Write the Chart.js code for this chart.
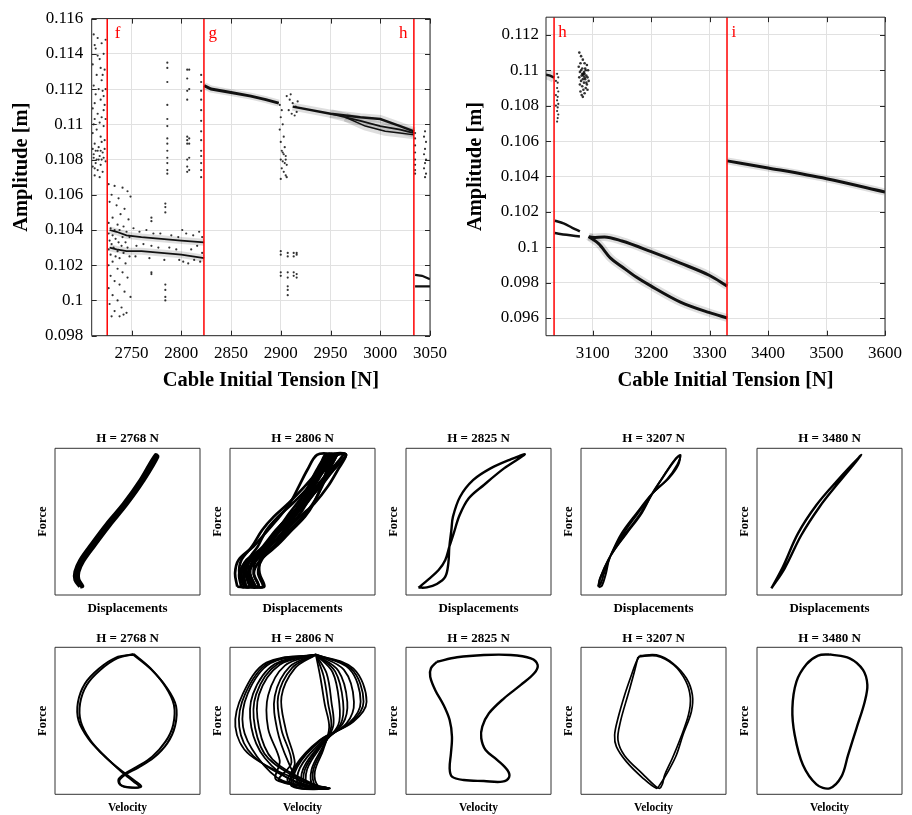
<!DOCTYPE html>
<html>
<head>
<meta charset="utf-8">
<title>Cable bifurcation diagrams and phase portraits</title>
<script src="https://cdn.jsdelivr.net/npm/chart.js@4.4.1/dist/chart.umd.min.js"></script>
<style>
  html, body { margin: 0; padding: 0; background: #fff; overflow: hidden; }
  #page { position: relative; width: 912px; height: 815px; }
  canvas { position: absolute; }
</style>
</head>
<body>
<div id="page">
  <canvas id="bifLow"  width="456" height="400" style="left:0;top:0"></canvas>
  <canvas id="bifHigh" width="456" height="400" style="left:456px;top:0"></canvas>

  <canvas id="d2768" width="173" height="200" style="left:30px;top:420px"></canvas>
  <canvas id="d2806" width="173" height="200" style="left:205px;top:420px"></canvas>
  <canvas id="d2825" width="173" height="200" style="left:381px;top:420px"></canvas>
  <canvas id="d3207" width="173" height="200" style="left:556px;top:420px"></canvas>
  <canvas id="d3480" width="173" height="200" style="left:732px;top:420px"></canvas>

  <canvas id="v2768" width="173" height="195" style="left:30px;top:620px"></canvas>
  <canvas id="v2806" width="173" height="195" style="left:205px;top:620px"></canvas>
  <canvas id="v2825" width="173" height="195" style="left:381px;top:620px"></canvas>
  <canvas id="v3207" width="173" height="195" style="left:556px;top:620px"></canvas>
  <canvas id="v3480" width="173" height="195" style="left:732px;top:620px"></canvas>
</div>
<script>
// ================= Bifurcation diagram: 2710 – 3050 N =================
const tensionTicksLow = [2750, 2800, 2850, 2900, 2950, 3000, 3050];
const amplitudeTicksLow = [0.098, 0.100, 0.102, 0.104, 0.106, 0.108, 0.110, 0.112, 0.114, 0.116];
const transitionsLow = [['f', 2725.6], ['g', 2822.8], ['h', 3033.8]];

// scattered (non-periodic) amplitudes before f
const scatterBeforeF = [
  [2712,0.1151],[2716,0.1149],[2720,0.1146],[2714,0.1143],[2722,0.1140],[2718,0.1137],[2711,0.1134],[2723,0.1131],
  [2715,0.1128],[2720,0.1125],[2712,0.1122],[2717,0.1120],[2721,0.1119],[2714,0.1117],[2719,0.1114],[2723,0.1111],
  [2711,0.1109],[2716,0.1106],[2720,0.1104],[2713,0.1103],[2718,0.1101],[2722,0.1099],[2715,0.1097],[2711,0.1095],
  [2719,0.1093],[2723,0.1091],[2713,0.1089],[2717,0.1087],[2711,0.1086],[2714,0.1085],[2716,0.1085],[2719,0.1085],
  [2721,0.1084],[2723,0.1086],[2712,0.1083],[2718,0.1082],[2712,0.1081],[2715,0.1080],[2717,0.1080],[2720,0.1080],
  [2722,0.1081],[2714,0.1078],[2719,0.1077],[2711,0.1076],[2716,0.1074],[2721,0.1073],[2713,0.1071],[2718,0.1070],
  [2724,0.1120],[2724,0.1103],[2713,0.1112],[2721,0.1128],[2716,0.1139],[2724,0.1148],
  [2713,0.1145],[2719,0.1132],[2722,0.1116],[2712,0.1100],[2720,0.1090],[2724,0.1079],[2713,0.1075],[2722,0.1108]
];
// scattered amplitudes between f and g
const scatterFG = [
  [2727,0.1066],[2733,0.1065],[2741,0.1064],[2746,0.1062],[2730,0.1060],[2737,0.1058],[2749,0.1059],[2728,0.1056],
  [2735,0.1054],[2743,0.1052],[2739,0.1049],[2731,0.1047],[2747,0.1046],[2727,0.1044],[2736,0.1043],[2742,0.1042],
  [2729,0.1041],[2733,0.1040],[2738,0.1040],[2745,0.1039],[2727,0.1038],[2731,0.1037],[2741,0.1036],[2748,0.1036],
  [2734,0.1035],[2728,0.1034],[2737,0.1033],[2744,0.1033],[2730,0.1032],[2740,0.1031],[2732,0.1030],[2746,0.1030],
  [2727,0.1029],[2736,0.1028],[2742,0.1027],[2729,0.1026],[2734,0.1025],[2748,0.1025],[2738,0.1024],[2731,0.1022],
  [2744,0.1021],[2727,0.1020],[2736,0.1018],[2741,0.1016],[2729,0.1014],[2746,0.1013],[2733,0.1011],[2738,0.1009],
  [2727,0.1007],[2743,0.1005],[2731,0.1003],[2749,0.1002],[2736,0.1000],[2728,0.0998],[2740,0.0996],[2733,0.0994],
  [2745,0.0993],[2730,0.0991],[2738,0.0991],[2742,0.0992],
  [2752,0.1041],[2758,0.1039],[2765,0.1040],[2772,0.1038],[2779,0.1038],[2790,0.1037],[2797,0.1036],[2805,0.1038],
  [2812,0.1037],[2818,0.1039],[2755,0.1031],[2762,0.1032],[2770,0.1031],[2777,0.1030],[2788,0.1030],[2795,0.1029],
  [2802,0.1022],[2807,0.1021],[2813,0.1023],[2819,0.1022],[2754,0.1025],[2768,0.1024],[2783,0.1023],[2798,0.1023],
  [2810,0.1029],[2816,0.1031],[2801,0.1040],[2821,0.1036],[2821,0.1027],
  [2770,0.1047],[2770,0.1045],[2770,0.1016],[2770,0.1015],
  [2784,0.1055],[2784,0.1053],[2784,0.1050],[2784,0.1009],[2784,0.1006],[2784,0.1002],[2784,0.1000],
  [2786,0.1135],[2786,0.1132],[2786,0.1124],[2786,0.1111],[2786,0.1103],[2786,0.1099],[2786,0.1092],[2786,0.1089],
  [2786,0.1085],[2786,0.1081],[2786,0.1078],[2786,0.1074],[2786,0.1072],
  [2806,0.1131],[2806,0.1126],[2806,0.1119],[2806,0.1114],[2806,0.1093],[2806,0.1091],[2806,0.1089],[2806,0.1080],
  [2806,0.1076],[2806,0.1073],[2808,0.1131],[2808,0.1120],[2808,0.1092],[2808,0.1089],[2808,0.1081],[2808,0.1074],
  [2820,0.1128],[2820,0.1124],[2820,0.1119],[2820,0.1114],[2820,0.1108],[2820,0.1102],[2820,0.1096],[2820,0.1091],
  [2820,0.1085],[2820,0.1082],[2820,0.1078],[2820,0.1074],[2820,0.1070]
];
// scattered amplitudes between g and h
const scatterGH = [
  [2899,0.1111],[2901,0.1108],[2900,0.1104],[2902,0.1100],[2899,0.1097],[2903,0.1093],[2900,0.1090],[2904,0.1087],
  [2901,0.1085],[2903,0.1083],[2905,0.1082],[2900,0.1080],[2902,0.1079],[2904,0.1078],[2906,0.1077],[2901,0.1075],
  [2903,0.1073],[2905,0.1071],[2900,0.1069],[2906,0.1070],[2902,0.1084],[2905,0.1080],
  [2906,0.1116],[2909,0.1114],[2912,0.1112],[2915,0.1110],[2908,0.1108],[2911,0.1106],[2914,0.1105],[2917,0.1113],
  [2910,0.1117],[2916,0.1107],
  [2900,0.1028],[2900,0.1026],[2900,0.1016],[2900,0.1014],
  [2907,0.1027],[2907,0.1025],[2907,0.1016],[2907,0.1013],[2907,0.1008],[2907,0.1006],[2907,0.1003],
  [2913,0.1027],[2913,0.1025],[2913,0.1016],[2913,0.1014],[2916,0.1027],[2916,0.1026],[2916,0.1015],[2916,0.1013]
];
// scattered amplitudes after h
const scatterAfterH = [
  [3035,0.1095],[3035,0.1092],[3035,0.1088],[3035,0.1084],[3035,0.1080],[3035,0.1077],[3035,0.1074],[3035,0.1072],
  [3045,0.1096],[3044,0.1093],[3046,0.1090],[3045,0.1086],[3044,0.1083],[3046,0.1080],[3045,0.1078],[3044,0.1075],
  [3046,0.1072],[3045,0.1070]
];
// periodic branches
const branchFGUpper = [[2728,0.1040],[2735,0.1039],[2745,0.1037],[2760,0.1036],[2780,0.1035],[2800,0.1034],[2823,0.1033]];
const branchFGLower = [[2728,0.1030],[2735,0.1029],[2745,0.1028],[2760,0.1028],[2780,0.1027],[2800,0.1026],[2823,0.1024]];
const branchG1 = [[2823,0.1122],[2830,0.1120],[2850,0.1118],[2870,0.1116],[2885,0.1114],[2898,0.1112]];
const branchG2a = [[2912,0.1110],[2950,0.1106],[2980,0.1104],[3000,0.1103],[3020,0.1099],[3034,0.1096]];
const branchG2b = [[2950,0.1106],[2980,0.1102],[3000,0.1099],[3020,0.1097],[3034,0.1095]];
const branchG2c = [[2965,0.1104],[2985,0.1099],[3005,0.1096],[3020,0.1095],[3034,0.1094]];
const branchHUpper = [[3035,0.10145],[3042,0.1014],[3050,0.1012]];
const branchHLower = [[3035,0.1008],[3050,0.1008]];

// ================= Bifurcation diagram: 3020 – 3600 N =================
const tensionTicksHigh = [3100, 3200, 3300, 3400, 3500, 3600];
const amplitudeTicksHigh = [0.096, 0.098, 0.100, 0.102, 0.104, 0.106, 0.108, 0.110, 0.112];
const transitionsHigh = [['h', 3033.8], ['i', 3329.7]];

const scatterNearH = [
  [3039,0.1098],[3041,0.1096],[3040,0.1093],[3039,0.1090],[3041,0.1088],[3040,0.1085],[3039,0.1083],[3041,0.1081],
  [3040,0.1079],[3039,0.1077],[3041,0.1075],[3040,0.1073],[3039,0.1071],[3037,0.1094],[3037,0.1086],[3037,0.1080]
];
const scatterNear3085 = [
  [3077,0.1110],[3080,0.1108],[3083,0.1106],[3079,0.1104],[3086,0.1104],[3090,0.1103],[3076,0.1102],[3082,0.1101],
  [3088,0.1100],[3092,0.1100],[3078,0.1099],[3084,0.1098],[3086,0.1098],[3089,0.1097],[3081,0.1097],[3091,0.1096],
  [3077,0.1096],[3083,0.1095],[3087,0.1095],[3093,0.1094],[3080,0.1094],[3085,0.1093],[3090,0.1092],[3078,0.1092],
  [3082,0.1091],[3088,0.1090],[3084,0.1089],[3079,0.1088],[3086,0.1087],[3081,0.1086],[3083,0.1085],[3091,0.1089],
  [3089,0.1093],[3087,0.1101],[3085,0.1099],[3080,0.1100],[3084,0.1097],[3082,0.1098],[3086,0.1096]
];
const branchBeforeH = [[3020,0.10975],[3027,0.1097],[3034,0.10958]];
const branchPairUpper = [[3035,0.1015],[3050,0.10135],[3065,0.1011],[3078,0.1009]];
const branchPairLower = [[3035,0.1008],[3055,0.1007],[3078,0.1006]];
const branchLoopUpper = [[3093,0.1006],[3100,0.10055],[3120,0.10058],[3150,0.10035],[3200,0.09975],[3250,0.0991],[3300,0.0984],[3330,0.0978]];
const branchLoopLower = [[3093,0.1006],[3110,0.1002],[3130,0.0994],[3150,0.0989],[3175,0.0983],[3200,0.0978],[3250,0.0969],[3300,0.0963],[3330,0.0960]];
const branchAfterI = [[3330,0.10488],[3400,0.10448],[3500,0.10387],[3600,0.10312]];

// ================= Phase portraits (normalised 0–100 units) =================
const disp2768 = [
  [[17.3,5.7],[13.9,10.2],[13.9,15.9],[17.3,23.8],[25.4,35.1],[35.8,48.7],[47.3,62.3],[58.9,78.4],[69.3,95.4],
   [70.8,94.2],[60.8,77.5],[49.3,61.5],[37.8,47.5],[27.5,34.0],[19.5,23.0],[16.3,15.8],[16.3,10.5],[19.0,6.0],[17.3,5.7]]
];
const disp2806 = [
  [[5.0,5.7],[3.5,14.8],[5.9,23.9],[16.1,33.0],[26.2,44.3],[34.2,53.4],[41.3,62.5],[47.4,73.9],[53.3,85.2],[60.0,95.5],
   [68.0,95.5],[61.3,85.2],[55.4,73.9],[49.3,62.5],[42.2,53.4],[34.2,44.3],[24.1,33.0],[13.9,23.9],[9.4,14.8],[10.7,5.7],[5.0,5.7]],
  [[7.7,5.7],[6.4,14.8],[11.9,23.9],[24.1,33.0],[35.2,44.3],[44.2,53.4],[51.3,62.5],[57.4,73.9],[62.3,85.2],[67.0,95.5],
   [73.0,95.5],[68.3,85.2],[63.4,73.9],[57.3,62.5],[50.2,53.4],[41.2,44.3],[30.1,33.0],[17.9,23.9],[12.4,14.8],[13.7,5.7],[7.7,5.7]],
  [[9.7,5.7],[6.4,14.8],[7.9,23.9],[15.1,33.0],[22.2,44.3],[30.2,53.4],[40.3,62.5],[51.4,73.9],[61.3,85.2],[70.0,95.5],
   [80.0,95.5],[71.3,85.2],[61.4,73.9],[50.3,62.5],[40.2,53.4],[32.2,44.3],[25.1,33.0],[17.9,23.9],[16.4,14.8],[19.7,5.7],[9.7,5.7]],
  [[16.7,5.7],[13.4,14.8],[15.9,23.9],[24.1,33.0],[33.2,44.3],[42.2,53.4],[52.3,62.5],[61.4,73.9],[68.3,85.2],[74.0,95.5],
   [80.0,95.5],[74.3,85.2],[67.4,73.9],[58.3,62.5],[48.2,53.4],[39.2,44.3],[30.1,33.0],[21.9,23.9],[19.4,14.8],[22.7,5.7],[16.7,5.7]],
  [[10.2,5.7],[7.9,14.8],[13.4,23.9],[26.6,33.0],[37.7,44.3],[46.7,53.4],[52.8,62.5],[57.9,73.9],[61.8,85.2],[65.5,95.5],
   [70.5,95.5],[66.8,85.2],[62.9,73.9],[57.8,62.5],[51.7,53.4],[42.7,44.3],[31.6,33.0],[18.4,23.9],[12.9,14.8],[15.2,5.7],[10.2,5.7]],
  [[17.7,5.7],[13.4,14.8],[12.9,23.9],[19.1,33.0],[25.2,44.3],[33.2,53.4],[43.3,62.5],[54.4,73.9],[63.3,85.2],[72.0,95.5],
   [80.0,95.5],[71.3,85.2],[62.4,73.9],[51.3,62.5],[41.2,53.4],[33.2,44.3],[27.1,33.0],[20.9,23.9],[20.4,14.8],[23.7,5.7],[17.7,5.7]],
  [[14.2,5.7],[10.9,14.8],[13.4,23.9],[22.6,33.0],[31.7,44.3],[40.7,53.4],[49.8,62.5],[57.9,73.9],[64.8,85.2],[70.5,95.5],
   [73.5,95.5],[67.8,85.2],[60.9,73.9],[52.8,62.5],[43.7,53.4],[34.7,44.3],[25.6,33.0],[16.4,23.9],[13.9,14.8],[17.2,5.7],[14.2,5.7]],
  [[10.2,5.7],[7.9,14.8],[11.4,23.9],[24.6,33.0],[34.7,44.3],[41.7,53.4],[47.8,62.5],[53.9,73.9],[59.8,85.2],[66.5,95.5],
   [69.5,95.5],[62.8,85.2],[56.9,73.9],[50.8,62.5],[44.7,53.4],[37.7,44.3],[27.6,33.0],[14.4,23.9],[10.9,14.8],[13.2,5.7],[10.2,5.7]],
  [[15.7,5.7],[12.4,14.8],[16.9,23.9],[27.1,33.0],[33.2,44.3],[39.2,53.4],[46.3,62.5],[55.4,73.9],[65.3,85.2],[74.0,95.5],
   [78.0,95.5],[69.3,85.2],[59.4,73.9],[50.3,62.5],[43.2,53.4],[37.2,44.3],[31.1,33.0],[20.9,23.9],[16.4,14.8],[19.7,5.7],[15.7,5.7]]
];
const disp2825 = [
  [[8.6,5.0],[15.5,10.7],[22.5,17.0],[27.1,23.9],[29.9,32.9],[32.9,42.0],[37.0,54.5],[43.3,65.9],[53.7,75.0],[67.6,86.3],
   [81.9,95.9],[72.2,92.5],[58.3,86.3],[46.4,78.4],[37.3,67.0],[32.4,53.4],[31.3,44.3],[29.9,32.9],[29.2,21.6],[27.1,12.5],
   [21.3,7.5],[14.4,5.2],[8.6,5.0]]
];
const disp3207 = [
  [[11.7,5.7],[13.5,12.0],[20.5,27.0],[31.5,42.0],[42.0,56.0],[49.0,69.0],[57.0,81.0],[64.0,91.0],[68.6,95.4],
   [66.5,89.0],[59.5,79.0],[49.0,69.0],[38.5,56.0],[28.0,42.0],[20.5,27.0],[16.0,15.0],[13.5,7.5],[11.7,5.7]],
  [[12.3,5.2],[13.0,11.0],[20.0,26.0],[30.5,41.5],[41.0,55.5],[49.5,69.5],[57.5,82.0],[64.5,92.0],[68.2,95.0],
   [67.0,88.5],[60.5,79.5],[49.5,69.5],[39.0,55.5],[28.5,41.0],[20.0,26.0],[17.0,14.0],[14.5,6.5],[12.3,5.2]]
];
const disp3480 = [
  [[9.9,4.5],[17.9,19.3],[28.3,42.0],[41.0,61.3],[54.8,77.3],[72.0,95.4],[55.9,76.1],[43.2,60.2],[30.6,40.9],[19.1,18.2],[9.9,4.5]]
];
const vel2768 = [
  [[54.3,95.4],[65.8,85.7],[76.2,73.2],[82.0,60.8],[81.5,47.2],[76.2,35.8],[67.0,25.6],[56.6,18.8],[48.5,14.3],[43.9,10.4],
   [44.6,6.8],[49.7,5.0],[58.2,5.0],[54.3,8.6],[48.5,13.1],[42.8,18.1],[33.5,26.7],[24.3,36.9],[17.8,49.4],[17.3,61.9],
   [21.9,74.4],[31.2,84.6],[42.8,92.5],[54.3,95.4]],
  [[54.0,95.0],[66.5,84.8],[77.5,72.0],[83.5,60.0],[82.8,46.5],[77.5,34.8],[68.0,24.8],[57.2,18.0],[48.8,13.6],[44.5,9.6],
   [45.5,6.2],[51.0,4.6],[59.5,5.3],[55.0,9.2],[48.8,13.9],[42.0,19.0],[32.5,27.5],[23.0,37.8],[16.3,50.0],[15.8,62.5],
   [20.6,75.2],[30.2,85.4],[42.0,93.0],[54.0,95.0]]
];
const vel2806 = [
  [[59.2,95.0],[62.4,79.1],[65.4,61.0],[68.4,45.6],[64.3,30.2],[58.5,15.4],[60.8,5.7],[68.9,4.1],[57.4,7.0],[29.3,23.8],[20.0,45.1],[20.0,67.8],[34.3,88.2],[59.2,95.0]],
  [[59.2,95.0],[66.6,82.3],[70.0,62.4],[71.2,46.5],[63.8,32.0],[56.2,16.6],[57.4,5.2],[68.4,4.1],[53.2,7.5],[13.6,26.8],[3.7,46.0],[9.0,68.7],[25.1,89.6],[59.2,95.0]],
  [[59.2,95.0],[70.7,83.2],[75.3,62.6],[74.7,47.2],[63.4,33.3],[53.2,17.0],[53.9,5.2],[68.0,4.1],[48.8,7.9],[40.1,22.2],[32.5,44.2],[30.9,66.9],[41.2,86.8],[59.2,95.0]],
  [[59.2,95.0],[74.7,84.1],[80.9,62.8],[77.6,47.8],[62.9,34.5],[50.5,17.5],[50.5,5.4],[67.7,4.1],[44.7,8.4],[24.0,24.7],[14.7,45.6],[15.9,68.3],[30.9,88.7],[59.2,95.0]],
  [[59.2,95.0],[78.6,84.6],[85.5,62.8],[80.4,48.3],[62.7,35.4],[48.2,17.9],[47.7,5.4],[67.3,4.1],[40.1,8.8],[44.7,21.1],[38.5,43.8],[35.5,66.4],[44.7,85.7],[59.2,95.0]],
  [[59.2,95.0],[82.3,85.3],[90.1,63.0],[82.7,49.0],[62.2,36.3],[46.3,18.4],[44.9,5.7],[66.8,4.1],[36.2,9.3],[18.7,25.6],[9.0,45.8],[12.2,68.5],[27.9,89.1],[59.2,95.0]],
  [[59.2,95.0],[85.0,85.7],[94.2,63.0],[85.0,49.4],[62.0,37.0],[44.7,18.8],[42.4,5.7],[66.6,4.1],[32.0,9.8],[34.3,22.9],[26.3,44.7],[26.3,67.3],[37.8,87.5],[59.2,95.0]],
  [[59.2,95.0],[72.5,83.6],[78.0,62.7],[76.2,47.5],[63.1,33.9],[51.8,17.2],[52.2,5.3],[67.8,4.1],[46.8,8.1],[16.0,26.2],[6.4,45.9],[10.6,68.6],[26.5,89.3],[59.2,95.0]],
  [[59.2,95.0],[83.6,85.5],[92.1,63.0],[83.8,49.2],[62.1,36.6],[45.5,18.6],[43.6,5.7],[66.7,4.1],[34.1,9.5],[42.4,21.6],[35.5,44.0],[33.2,66.6],[43.0,86.2],[59.2,95.0]],
  [[59.2,95.0],[64.5,80.7],[67.7,61.7],[69.8,46.0],[64.0,31.1],[57.3,16.0],[59.1,5.4],[68.6,4.1],[55.3,7.2],[26.6,24.2],[17.3,45.3],[18.0,68.0],[32.6,88.5],[59.2,95.0]]
];
const vel2825 = [
  [[21.3,90.2],[35.2,93.2],[53.7,94.8],[72.2,94.8],[86.1,92.5],[90.8,88.0],[88.4,82.3],[79.2,74.4],[67.6,65.3],[57.2,55.1],
   [52.6,46.0],[51.9,38.1],[54.9,30.1],[63.0,23.3],[69.9,16.5],[71.1,11.6],[66.4,8.6],[53.7,9.0],[39.8,9.7],[31.7,12.0],
   [30.1,17.7],[31.0,27.9],[31.7,39.2],[30.1,50.5],[25.9,60.7],[20.1,71.0],[16.7,80.0],[17.2,85.7],[21.3,90.2]]
];
const vel3207 = [
  [[40.5,94.3],[52.0,94.8],[63.4,89.1],[72.7,78.9],[76.8,67.6],[76.1,56.2],[70.3,40.3],[65.8,26.7],[60.0,15.4],[54.3,6.3],
   [52.0,4.1],[42.8,10.9],[31.3,22.2],[24.4,32.4],[23.2,40.3],[25.5,51.7],[30.1,67.6],[34.8,81.2],[38.2,90.2],[40.5,94.3]],
  [[39.3,93.4],[52.0,94.1],[63.9,88.0],[72.2,77.1],[75.4,65.7],[74.1,53.9],[68.6,38.1],[63.0,24.5],[57.7,13.1],[56.1,6.8],
   [54.3,4.1],[51.5,5.4],[42.8,13.6],[30.1,26.3],[25.5,36.9],[27.2,49.4],[32.7,68.7],[36.8,83.4],[39.3,93.4]]
];
const vel3480 = [
  [[50.1,95.2],[63.9,92.5],[73.1,84.6],[76.1,74.4],[74.3,63.0],[68.6,44.9],[62.8,26.7],[58.2,12.0],[50.1,4.1],[41.0,6.8],
   [31.7,19.9],[26.0,40.3],[24.4,58.5],[27.2,76.6],[34.1,88.4],[42.1,94.3],[50.1,95.2]]
];

// ================= Drawing helpers =================
const SERIF = "'Liberation Serif', 'Times New Roman', serif";
Chart.defaults.font.family = SERIF;
Chart.defaults.color = '#000';
Chart.defaults.animation = false;

const xy = pts => pts.map(([x, y]) => ({ x, y }));

// frame around the plot area, optionally with inward tick marks on all four sides
const frame = {
  id: 'frame',
  afterDatasetsDraw(chart, args, o) {
    const { ctx, chartArea: a } = chart;
    ctx.save();
    ctx.strokeStyle = o.color || '#262626';
    ctx.lineWidth = 1;
    ctx.beginPath();
    if (o.tickLen) {
      const L = o.tickLen, sx = chart.scales.x, sy = chart.scales.y;
      sx.ticks.forEach(t => {
        const p = Math.round(sx.getPixelForValue(t.value)) + 0.5;
        ctx.moveTo(p, a.bottom); ctx.lineTo(p, a.bottom - L);
        ctx.moveTo(p, a.top); ctx.lineTo(p, a.top + L);
      });
      sy.ticks.forEach(t => {
        const p = Math.round(sy.getPixelForValue(t.value)) + 0.5;
        ctx.moveTo(a.left, p); ctx.lineTo(a.left + L, p);
        ctx.moveTo(a.right, p); ctx.lineTo(a.right - L, p);
      });
    }
    ctx.rect(a.left, a.top, a.right - a.left, a.bottom - a.top);
    ctx.stroke();
    ctx.restore();
  }
};

// axis captions and red transition letters of the bifurcation diagrams
const captions = {
  id: 'captions',
  afterDraw(chart, args, o) {
    const { ctx, chartArea: a } = chart;
    ctx.save();
    ctx.fillStyle = '#000';
    ctx.font = `bold ${o.size}px ${SERIF}`;
    ctx.textAlign = 'center';
    ctx.textBaseline = 'middle';
    ctx.fillText(o.xText, (a.left + a.right) / 2 + o.xShift, o.xY);
    ctx.save();
    ctx.translate(o.yX, (a.top + a.bottom) / 2 + o.yShift);
    ctx.rotate(-Math.PI / 2);
    ctx.fillText(o.yText, 0, 0);
    ctx.restore();
    ctx.fillStyle = '#ff0000';
    ctx.font = `17px ${SERIF}`;
    ctx.textBaseline = 'alphabetic';
    o.marks.forEach(([label, value], i) => {
      const px = chart.scales.x.getPixelForValue(value);
      const dx = o.markDx[i];
      ctx.textAlign = dx < 0 ? 'right' : 'left';
      ctx.fillText(label, px + dx, a.top + 19.7);
    });
    ctx.restore();
  }
};

function lineSet(pts, color, width, order, smooth) {
  return { data: xy(pts), showLine: true, borderColor: color, borderWidth: width, pointRadius: 0,
           order, cubicInterpolationMode: smooth ? 'monotone' : 'default', fill: false };
}
function dotSet(pts, color, r) {
  return { data: xy(pts), showLine: false, pointRadius: r, pointBackgroundColor: color, pointBorderWidth: 0, order: 2 };
}
function markSet(value, yMin, yMax) {
  return { data: [{ x: value, y: yMin }, { x: value, y: yMax }], showLine: true, borderColor: '#ff0000',
           borderWidth: 1.5, pointRadius: 0, order: 0 };
}
const fmtAmp = v => String(parseFloat(Number(v).toFixed(3)));

function bifurcation(id, cfg) {
  new Chart(document.getElementById(id), {
    type: 'scatter',
    data: { datasets: cfg.datasets },
    options: {
      responsive: false, devicePixelRatio: 1, events: [],
      layout: { padding: { top: 14.3, right: cfg.padRight, left: 0, bottom: 0 } },
      plugins: {
        legend: { display: false }, tooltip: { enabled: false },
        frame: { tickLen: 5, color: '#262626' },
        captions: { size: 20.5, xText: 'Cable Initial Tension [N]', xShift: 10, xY: 381,
                    yText: 'Amplitude [m]', yX: cfg.yTitleX, yShift: -10,
                    marks: cfg.marks, markDx: cfg.markDx }
      },
      scales: {
        x: {
          type: 'linear', min: cfg.xMin, max: cfg.xMax,
          afterBuildTicks: s => { s.ticks = cfg.xTicks.map(v => ({ value: v })); },
          afterFit: s => { s.height = 64.3; },
          grid: { color: '#e1e1e1', drawTicks: false },
          border: { display: false },
          ticks: { padding: 7.4, font: { size: 17 }, color: '#000', maxRotation: 0, autoSkip: false,
                   callback: v => String(v) }
        },
        y: {
          type: 'linear', min: cfg.yMin, max: cfg.yMax,
          afterBuildTicks: s => { s.ticks = cfg.yTicks.map(v => ({ value: v })); },
          afterFit: s => { s.width = cfg.yWidth; },
          grid: { color: '#e1e1e1', drawTicks: false },
          border: { display: false },
          ticks: { padding: cfg.yPad, font: { size: 17 }, color: '#000', autoSkip: false, callback: fmtAmp }
        }
      }
    },
    plugins: [frame, captions]
  });
}

const HALO = 'rgba(0,0,0,0.13)', CORE = '#111', DOT = 'rgba(0,0,0,0.8)';

bifurcation('bifLow', {
  xMin: 2710, xMax: 3050, yMin: 0.098, yMax: 0.116,
  xTicks: tensionTicksLow, yTicks: amplitudeTicksLow,
  yWidth: 91.7, yPad: 8.4, padRight: 26, yTitleX: 21.7,
  marks: transitionsLow, markDx: [7.5, 4.5, -6.5],
  datasets: [
    ...transitionsLow.map(([, v]) => markSet(v, 0.098, 0.116)),
    lineSet(branchFGUpper, CORE, 1.8, 1), lineSet(branchFGLower, CORE, 1.8, 1),
    lineSet(branchG1, CORE, 3, 1), lineSet(branchG2a, CORE, 2.4, 1),
    lineSet(branchG2b, CORE, 1.8, 1), lineSet(branchG2c, CORE, 1.5, 1),
    lineSet(branchHUpper, CORE, 2.2, 1), lineSet(branchHLower, CORE, 2.2, 1),
    dotSet(scatterBeforeF, DOT, 1.1), dotSet(scatterFG, DOT, 1.1),
    dotSet(scatterGH, DOT, 1.1), dotSet(scatterAfterH, DOT, 1.1),
    lineSet(branchFGUpper, HALO, 7, 3), lineSet(branchFGLower, HALO, 7, 3),
    lineSet(branchG1, HALO, 7, 3), lineSet(branchG2a, HALO, 8, 3),
    lineSet(branchG2b, HALO, 9, 3), lineSet(branchG2c, HALO, 9, 3)
  ]
});

bifurcation('bifHigh', {
  xMin: 3020, xMax: 3600, yMin: 0.095, yMax: 0.113,
  xTicks: tensionTicksHigh, yTicks: amplitudeTicksHigh,
  yWidth: 90, yPad: 7, padRight: 27, yTitleX: 20,
  marks: transitionsHigh, markDx: [4.3, 4.4],
  datasets: [
    ...transitionsHigh.map(([, v]) => markSet(v, 0.095, 0.113)),
    lineSet(branchBeforeH, CORE, 2.5, 1),
    lineSet(branchPairUpper, CORE, 2.5, 1, true), lineSet(branchPairLower, CORE, 2.5, 1, true),
    lineSet(branchLoopUpper, CORE, 3, 1, true), lineSet(branchLoopLower, CORE, 3, 1, true),
    lineSet(branchAfterI, CORE, 3, 1, true),
    dotSet(scatterNearH, DOT, 1.1), dotSet(scatterNear3085, DOT, 1.3),
    lineSet(branchBeforeH, HALO, 10, 3),
    lineSet(branchLoopUpper, HALO, 8, 3, true), lineSet(branchLoopLower, HALO, 8, 3, true),
    lineSet(branchAfterI, HALO, 7, 3, true)
  ]
});

// ================= Phase portrait panels =================
const ROWS = [
  { titleTop: 11.2, titleBottom: 1.5, axisH: 25, xFont: 13, xPad: 3.9 },
  { titleTop: 10.5, titleBottom: 1.2, axisH: 20.7, xFont: 11.5, xPad: 0 }
];

function portrait(id, tension, xName, curves, width, row) {
  const r = ROWS[row];
  new Chart(document.getElementById(id), {
    type: 'scatter',
    data: {
      datasets: curves.map(c => ({ data: xy(c), showLine: true, borderColor: '#000', borderWidth: width,
                                   pointRadius: 0, tension: 0.35, fill: false, borderJoinStyle: 'round' }))
    },
    options: {
      responsive: false, devicePixelRatio: 1, events: [],
      layout: { padding: { left: 0, right: 3, top: 0, bottom: 0 } },
      plugins: {
        legend: { display: false }, tooltip: { enabled: false },
        frame: { tickLen: 0, color: '#333' },
        title: { display: true, text: `H = ${tension} N`, fullSize: false, color: '#000',
                 font: { size: 13, weight: 'bold' }, padding: { top: r.titleTop, bottom: r.titleBottom } }
      },
      scales: {
        x: {
          type: 'linear', min: 0, max: 100,
          afterFit: s => { s.height = r.axisH; },
          grid: { display: false }, border: { display: false }, ticks: { display: false },
          title: { display: true, text: xName, color: '#000', font: { size: r.xFont, weight: 'bold' },
                   padding: { top: 0, bottom: r.xPad } }
        },
        y: {
          type: 'linear', min: 0, max: 100,
          afterFit: s => { s.width = 25; },
          grid: { display: false }, border: { display: false }, ticks: { display: false },
          title: { display: true, text: 'Force', color: '#000', font: { size: 12.5, weight: 'bold' },
                   padding: { top: 5.5, bottom: 0 } }
        }
      }
    },
    plugins: [frame]
  });
}

portrait('d2768', 2768, 'Displacements', disp2768, 3.6, 0);
portrait('d2806', 2806, 'Displacements', disp2806, 2.7, 0);
portrait('d2825', 2825, 'Displacements', disp2825, 2.4, 0);
portrait('d3207', 3207, 'Displacements', disp3207, 2.0, 0);
portrait('d3480', 3480, 'Displacements', disp3480, 2.4, 0);

portrait('v2768', 2768, 'Velocity', vel2768, 2.0, 1);
portrait('v2806', 2806, 'Velocity', vel2806, 1.8, 1);
portrait('v2825', 2825, 'Velocity', vel2825, 2.4, 1);
portrait('v3207', 3207, 'Velocity', vel3207, 1.7, 1);
portrait('v3480', 3480, 'Velocity', vel3480, 2.4, 1);
</script>
</body>
</html>
